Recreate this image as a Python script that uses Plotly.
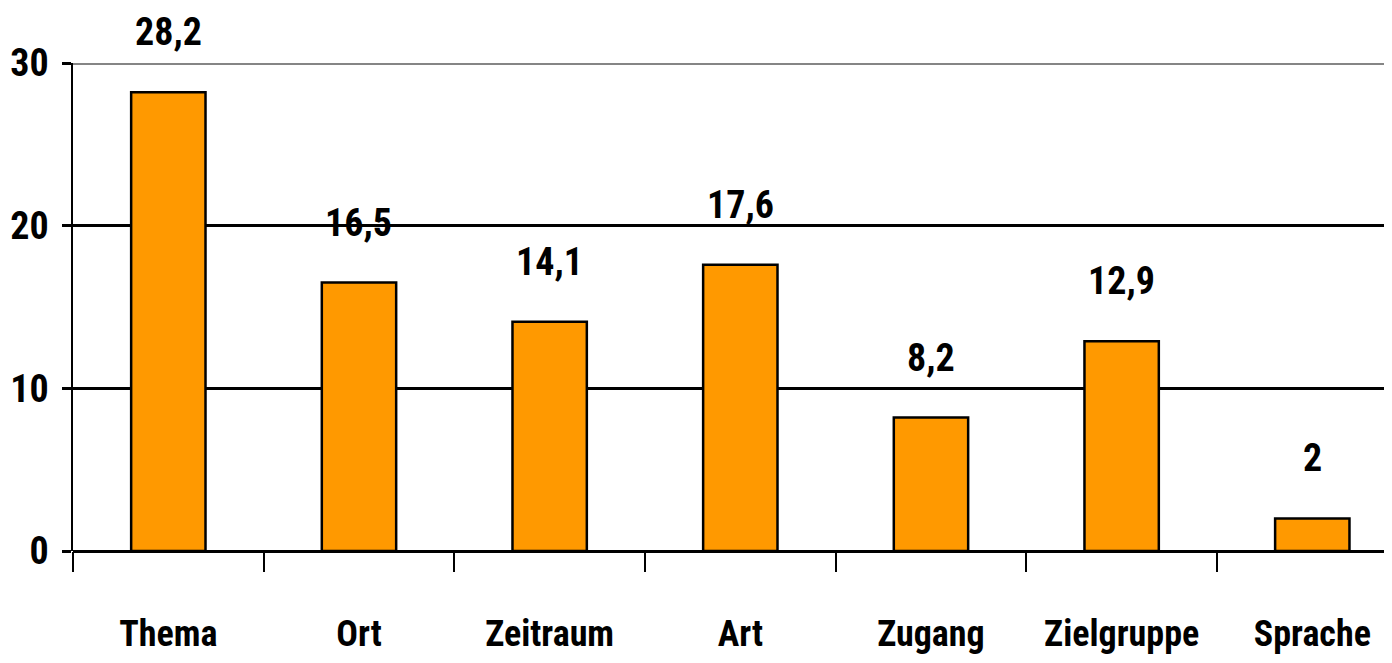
import plotly.graph_objects as go

categories = ["Thema", "Ort", "Zeitraum", "Art", "Zugang", "Zielgruppe", "Sprache"]
values = [28.2, 16.5, 14.1, 17.6, 8.2, 12.9, 2]
y_ticks = [0, 10, 20, 30]

FONT = "'Roboto Condensed', 'Liberation Sans Narrow', 'DejaVu Sans Condensed', sans-serif"
BAR_COLOUR = "#FF9900"


def _font(size):
    return {"family": FONT, "size": size, "color": "black", "weight": "bold"}


fig = go.Figure(
    go.Bar(
        x=categories,
        y=values,
        marker={"color": BAR_COLOUR, "line": {"color": "black", "width": 2.5}},
        width=0.39,
        hoverinfo="skip",
    )
)

# value labels above each bar, decimal comma
for cat, val in zip(categories, values):
    fig.add_annotation(
        x=cat,
        y=val,
        text=f"{val:g}".replace(".", ","),
        showarrow=False,
        yanchor="middle",
        yshift=60,
        font=_font(38),
    )

# top gridline is grey in the original
fig.add_hline(y=30, line_color="#858585", line_width=4, layer="above")

# page body has an 8px margin, so the figure is sized to fit the window
fig.update_layout(
    width=1384,
    height=655,
    margin={"l": 65, "r": 0, "t": 55, "b": 112, "autoexpand": False},
    plot_bgcolor="white",
    paper_bgcolor="white",
    showlegend=False,
    font=_font(36),
    xaxis={
        "type": "category",
        "range": [-0.5, 6.418],
        "automargin": False,
        "tickangle": 0,
        "tickson": "boundaries",
        "ticks": "outside",
        "ticklen": 20,
        "tickwidth": 1.5,
        "tickcolor": "black",
        "ticklabelstandoff": 58,
        "showgrid": False,
        "showline": False,
        "tickfont": _font(36),
    },
    yaxis={
        "range": [0, 30],
        "automargin": False,
        "tickvals": y_ticks,
        "ticks": "outside",
        "ticklen": 9,
        "tickwidth": 3,
        "tickcolor": "black",
        "showgrid": True,
        "gridcolor": "black",
        "gridwidth": 3,
        "zeroline": True,
        "zerolinecolor": "black",
        "zerolinewidth": 3,
        "showline": True,
        "linecolor": "black",
        "linewidth": 1.5,
        "ticklabelstandoff": 6,
        "tickfont": _font(38),
    },
)

fig.write_html("out.html")
